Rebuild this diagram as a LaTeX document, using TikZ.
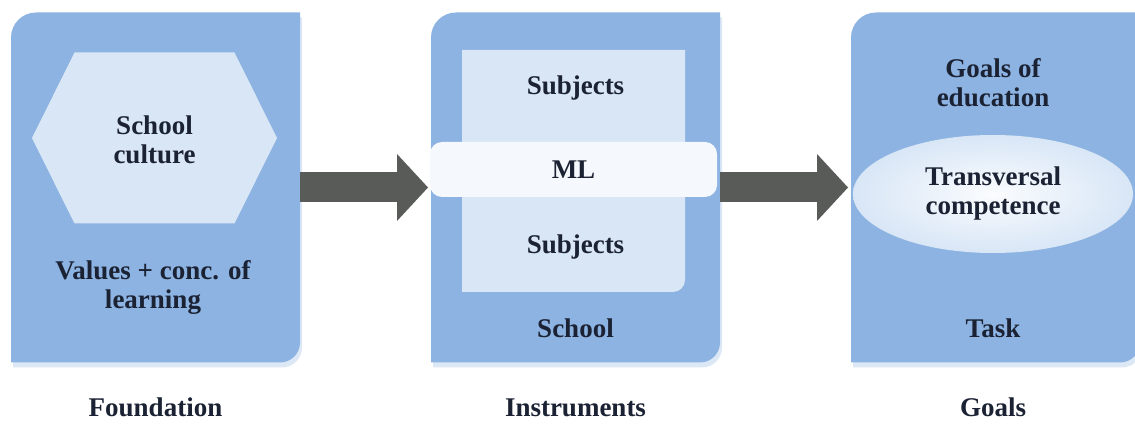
\documentclass[tikz,border=0pt]{standalone}
\usepackage{fontspec}
\setmainfont{Liberation Serif}[BoldFont={Liberation Serif Bold}]
\usepackage{tikz}
\usetikzlibrary{matrix,arrows.meta,backgrounds,shapes.geometric}

\definecolor{panelblue}{HTML}{8DB3E2}
\definecolor{lightfill}{HTML}{D8E6F6}
\definecolor{bandfill}{HTML}{F5F8FC}
\definecolor{arrowgrey}{HTML}{585B57}
\definecolor{inkcol}{HTML}{1B2233}

\newcommand\panelshape[2]{%
  \fill[#1] ([yshift=-25pt]#2.north west) arc[start angle=180,end angle=90,radius=25pt]
    -- (#2.north east) -- ([yshift=20pt]#2.south east)
    arc[start angle=0,end angle=-90,radius=20pt] -- (#2.south west) -- cycle;}

\begin{document}
\begin{tikzpicture}[x=1pt,y=1pt,
  panel/.style={minimum width=289pt,minimum height=350pt,inner sep=0pt,outer sep=0pt},
  txt/.style={font=\fontsize{27}{29}\selectfont\bfseries,text=inkcol,align=center,inner sep=0pt},
  bigarrow/.style={draw=arrowgrey,line width=30pt,-{Triangle[length=31pt,width=67pt,line width=0pt]},shorten >=3pt}]
  \useasboundingbox (0,0) rectangle (1135,423);
  \matrix (m) at (575.5,235.5) [column sep=131pt,inner sep=0pt]
  {
    \node[panel] (found) {}; & \node[panel] (instr) {}; & \node[panel] (goals) {}; \\
  };

  \node[txt] (culture) at ([shift={(-1pt,48pt)}]found.center) {School\\culture};
  \node[txt] (values) at ([shift={(-2.5pt,-100pt)}]found.center) {Values + conc. of\\learning};
  \node[txt] (fcap) at ([shift={(0pt,-220pt)}]found.center) {Foundation};

  \draw[bigarrow] (found.east) -- (instr.west);
  \draw[bigarrow] (instr.east) -- (goals.west);

  \node[txt] (subjtop) at ([shift={(0pt,99.5pt)}]instr.center) {Subjects};
  \node[txt,fill=bandfill,rounded corners=12pt,minimum width=287pt,minimum height=55pt] (ml)
    at ([shift={(-2pt,18pt)}]instr.center) {ML};
  \node[txt] (subjbot) at ([shift={(0pt,-59.5pt)}]instr.center) {Subjects};
  \node[txt] (school) at ([shift={(0pt,-140.5pt)}]instr.center) {School};
  \node[txt] (icap) at ([shift={(0pt,-220pt)}]instr.center) {Instruments};

  \node[txt] (aims) at ([shift={(-2.5pt,105pt)}]goals.center) {Goals of\\education};
  \node[txt,ellipse,inner color=white!88!lightfill,outer color=lightfill,minimum width=280pt,minimum height=118pt] (trans)
    at ([shift={(-2.5pt,-6.5pt)}]goals.center) {Transversal\\competence};
  \node[txt] (task) at ([shift={(-2.5pt,-140.5pt)}]goals.center) {Task};
  \node[txt] (gcap) at ([shift={(-2.5pt,-220pt)}]goals.center) {Goals};

  \begin{scope}[on background layer]
    \fill[white] (0,0) rectangle (1135,423);
    \begin{scope}[transform canvas={shift={(2pt,-5pt)}}]
      \panelshape{panelblue!30}{found}
      \panelshape{panelblue!30}{instr}
      \panelshape{panelblue!30}{goals}
    \end{scope}
    \panelshape{panelblue}{found}
    \panelshape{panelblue}{instr}
    \panelshape{panelblue}{goals}
    \fill[lightfill] ([shift={(-123.5pt,49.5pt)}]found.center) -- ++(42.5,85.5) -- ++(160,0)
      -- ++(42.5,-85.5) -- ++(-42.5,-85.5) -- ++(-160,0) -- cycle;
    \fill[lightfill] ([shift={(-113.5pt,-104.5pt)}]instr.center) -- ++(0,242) -- ++(223,0)
      -- ++(0,-230) arc[start angle=0,end angle=-90,radius=12pt] -- cycle;
  \end{scope}
\end{tikzpicture}
\end{document}
